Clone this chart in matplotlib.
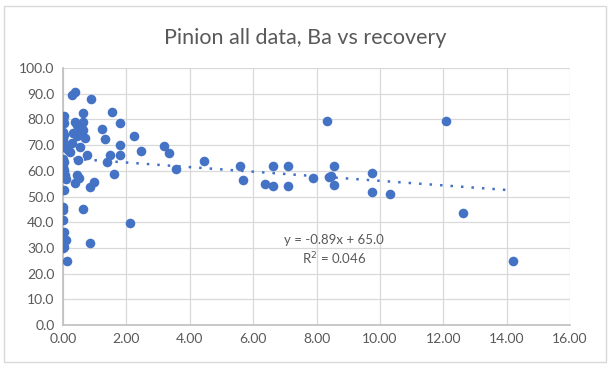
import matplotlib
matplotlib.use("Agg")
import matplotlib.pyplot as plt
from matplotlib.patches import Rectangle
import numpy as np

plt.rcParams['font.family'] = ['Lato', 'DejaVu Sans']

# Ba values (x) and recovery (y)
ba = [0.02, 0.00, 0.03, 0.00, 0.02, 0.00, 0.02, 0.00, 0.01, 0.03, 0.00, 0.02,
      0.05, 0.10, 0.02, 0.00, 0.01, 0.00, 0.02, 0.10, 0.03, 0.00, 0.13,
      0.27, 0.38, 0.87, 0.64, 1.56, 0.38, 0.43, 0.64, 0.33, 0.54, 0.64, 0.70,
      1.22, 1.33, 0.27, 0.17, 0.22, 0.54, 0.75, 0.48, 1.47, 1.38, 1.79, 2.23,
      1.81, 1.81, 3.18, 3.34, 2.47, 3.58, 1.60, 0.44, 0.49, 0.39, 0.97, 0.84,
      0.63, 2.10, 0.84, 0.58, 0.45,
      4.46, 5.60, 5.67, 6.62, 7.10, 6.38, 6.62, 7.10, 7.89, 8.33, 8.45, 8.38,
      8.55, 8.55, 9.76, 9.76, 10.33, 12.09, 12.61, 14.20]
recovery = [81.2, 79.9, 78.6, 75.0, 73.8, 72.5, 70.5, 69.2, 64.7, 63.4, 61.5, 60.2,
            58.3, 57.0, 52.4, 46.0, 44.7, 40.8, 36.3, 33.0, 30.5, 29.8, 25.0,
            89.4, 90.7, 87.9, 82.3, 82.9, 79.1, 77.8, 79.1, 74.6, 75.2, 75.8, 72.6,
            76.1, 72.2, 70.7, 68.1, 67.4, 69.4, 66.1, 64.2, 66.0, 63.5, 78.7, 73.4,
            70.0, 66.1, 69.6, 67.0, 67.7, 60.6, 58.8, 58.4, 57.1, 55.1, 55.8, 53.6,
            45.3, 39.5, 31.8, 77.0, 73.5,
            63.9, 61.9, 56.4, 61.9, 62.0, 54.9, 54.1, 54.1, 57.3, 79.3, 58.0, 57.4,
            61.9, 54.5, 59.1, 51.6, 51.0, 79.2, 43.6, 24.8]

slope = -0.89
intercept = 65.0
r2 = 0.046

x_ticks = [0, 2, 4, 6, 8, 10, 12, 14, 16]
y_ticks = [0, 10, 20, 30, 40, 50, 60, 70, 80, 90, 100]

blue = '#4472C4'
grey_text = '#595959'

fig = plt.figure(figsize=(6.09, 3.70), dpi=100)
fig.patches.append(Rectangle((4 / 609, 1 - 362 / 370), 602 / 609, 356 / 370,
                             transform=fig.transFigure, fill=False,
                             edgecolor='#d9d9d9', linewidth=1))
ax = fig.add_axes([63 / 609, 45 / 370, 507 / 609, 257 / 370])

ax.scatter(ba, recovery, s=48, color=blue, zorder=3, linewidths=0)

tx = np.array([min(ba), max(ba)])
ax.plot(tx, slope * tx + intercept, color=blue, linestyle=(0, (1, 3.2)),
        linewidth=1.8, zorder=2)

ax.set_xlim(0, 16)
ax.set_ylim(0, 100)
ax.set_xticks(x_ticks)
ax.set_yticks(y_ticks)
ax.set_xticklabels(['%.2f' % v for v in x_ticks])
ax.set_yticklabels(['%.1f' % v for v in y_ticks])
ax.tick_params(length=0, labelsize=10, colors=grey_text, pad=6)
ax.grid(True, color='#d9d9d9', linewidth=0.9)
ax.set_axisbelow(True)
for s in ['top', 'right']:
    ax.spines[s].set_visible(False)
for s in ['left', 'bottom']:
    ax.spines[s].set_color('#bfbfbf')
    ax.spines[s].set_linewidth(1.2)

fig.text(305 / 609, 1 - 38 / 370, 'Pinion all data, Ba vs recovery',
         ha='center', va='center', fontsize=15.5, color=grey_text)

ax.text(8.55, 29.0, 'y = -0.89x + 65.0\nR$^2$ = 0.046', ha='center', va='center',
        fontsize=9.5, color=grey_text, linespacing=1.3)

fig.savefig('out.png', dpi=100)
